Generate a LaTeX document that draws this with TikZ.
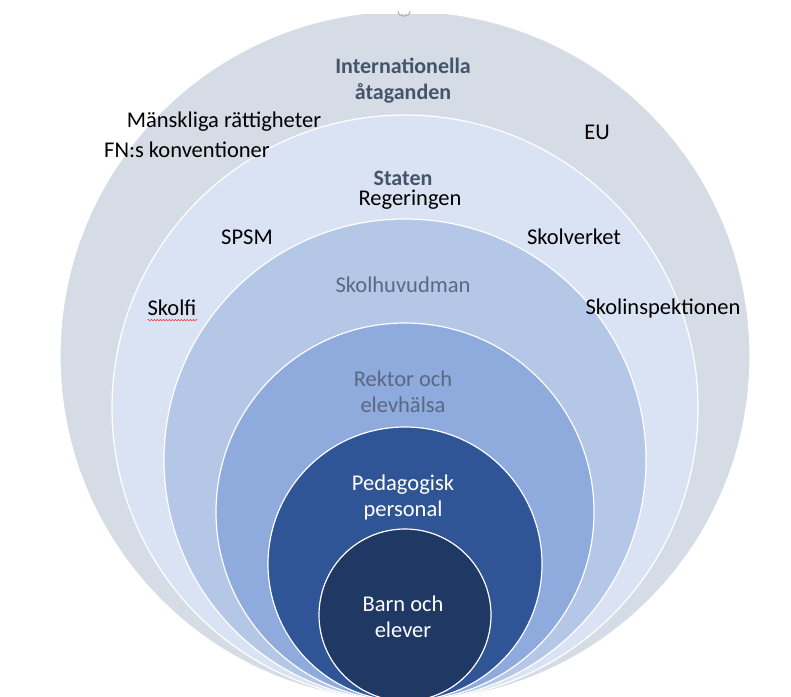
\documentclass[tikz,border=0pt]{standalone}
\usepackage{fontspec}
\setmainfont{Carlito}
\usetikzlibrary{decorations.pathmorphing}
\definecolor{ringA}{HTML}{D6DCE5}
\definecolor{ringB}{HTML}{DAE3F3}
\definecolor{ringC}{HTML}{B4C7E7}
\definecolor{ringD}{HTML}{8FAADC}
\definecolor{ringE}{HTML}{2F5597}
\definecolor{ringF}{HTML}{203864}
\definecolor{slate}{HTML}{44546A}
\definecolor{slatel}{HTML}{5A6882}
\tikzset{
  ring/.style={fill=#1, draw=white, line width=1.2pt},
  lbl/.style={inner sep=0pt, align=center, font=\fontsize{22.5}{26}\selectfont, text=black},
  hdr/.style={lbl, text=slate, font=\fontsize{22}{26}\selectfont\bfseries},
  grey/.style={lbl, text=slatel},
  wht/.style={lbl, text=white},
}
\begin{document}
\begin{tikzpicture}[x=1pt,y=-1pt]
\useasboundingbox[fill=white] (0,0) rectangle (791,696);
\begin{scope}
\clip (0,14) rectangle (791,696);
\fill[ring=ringA] (405,356) circle[radius=345];
\fill[ring=ringB] (405,408) circle[radius=293];
\fill[ring=ringC] (405,460) circle[radius=241];
\fill[ring=ringD] (405,512) circle[radius=189];
\fill[ring=ringE] (405,564) circle[radius=137];
\fill[ring=ringF] (405,615) circle[radius=86];
\end{scope}
\draw[gray!70, line width=0.8pt] (398,11) .. controls (398,18) and (410,18) .. (410,11);

\node[hdr] (intl) at (403,81) {Internationella\\åtaganden};
\node[lbl] (mr) at (224,122) {Mänskliga rättigheter};
\node[lbl] (fn) at (187,150) {FN:s konventioner};
\node[lbl] (eu) at (597,132) {EU};
\node[hdr] (staten) at (403,178) {Staten};
\node[lbl] (reg) at (410,200) {Regeringen};
\node[lbl] (spsm) at (247,237) {SPSM};
\node[lbl] (skv) at (574,237) {Skolverket};
\node[lbl] (skolfi) at (172,308) {Skolfi};
\draw[red!80, line width=0.5pt, decorate, decoration={snake, segment length=3pt, amplitude=0.8pt}] (skolfi.south west)++(0,4) -- ++(50,0);
\node[lbl] (ski) at (663,308) {Skolinspektionen};
\node[grey] (hm) at (403,285) {Skolhuvudman};
\node[grey] (rek) at (403,392) {Rektor och\\elevhälsa};
\node[wht] (ped) at (403,497) {Pedagogisk\\personal};
\node[wht] (barn) at (403,617) {Barn och\\elever};
\end{tikzpicture}
\end{document}
